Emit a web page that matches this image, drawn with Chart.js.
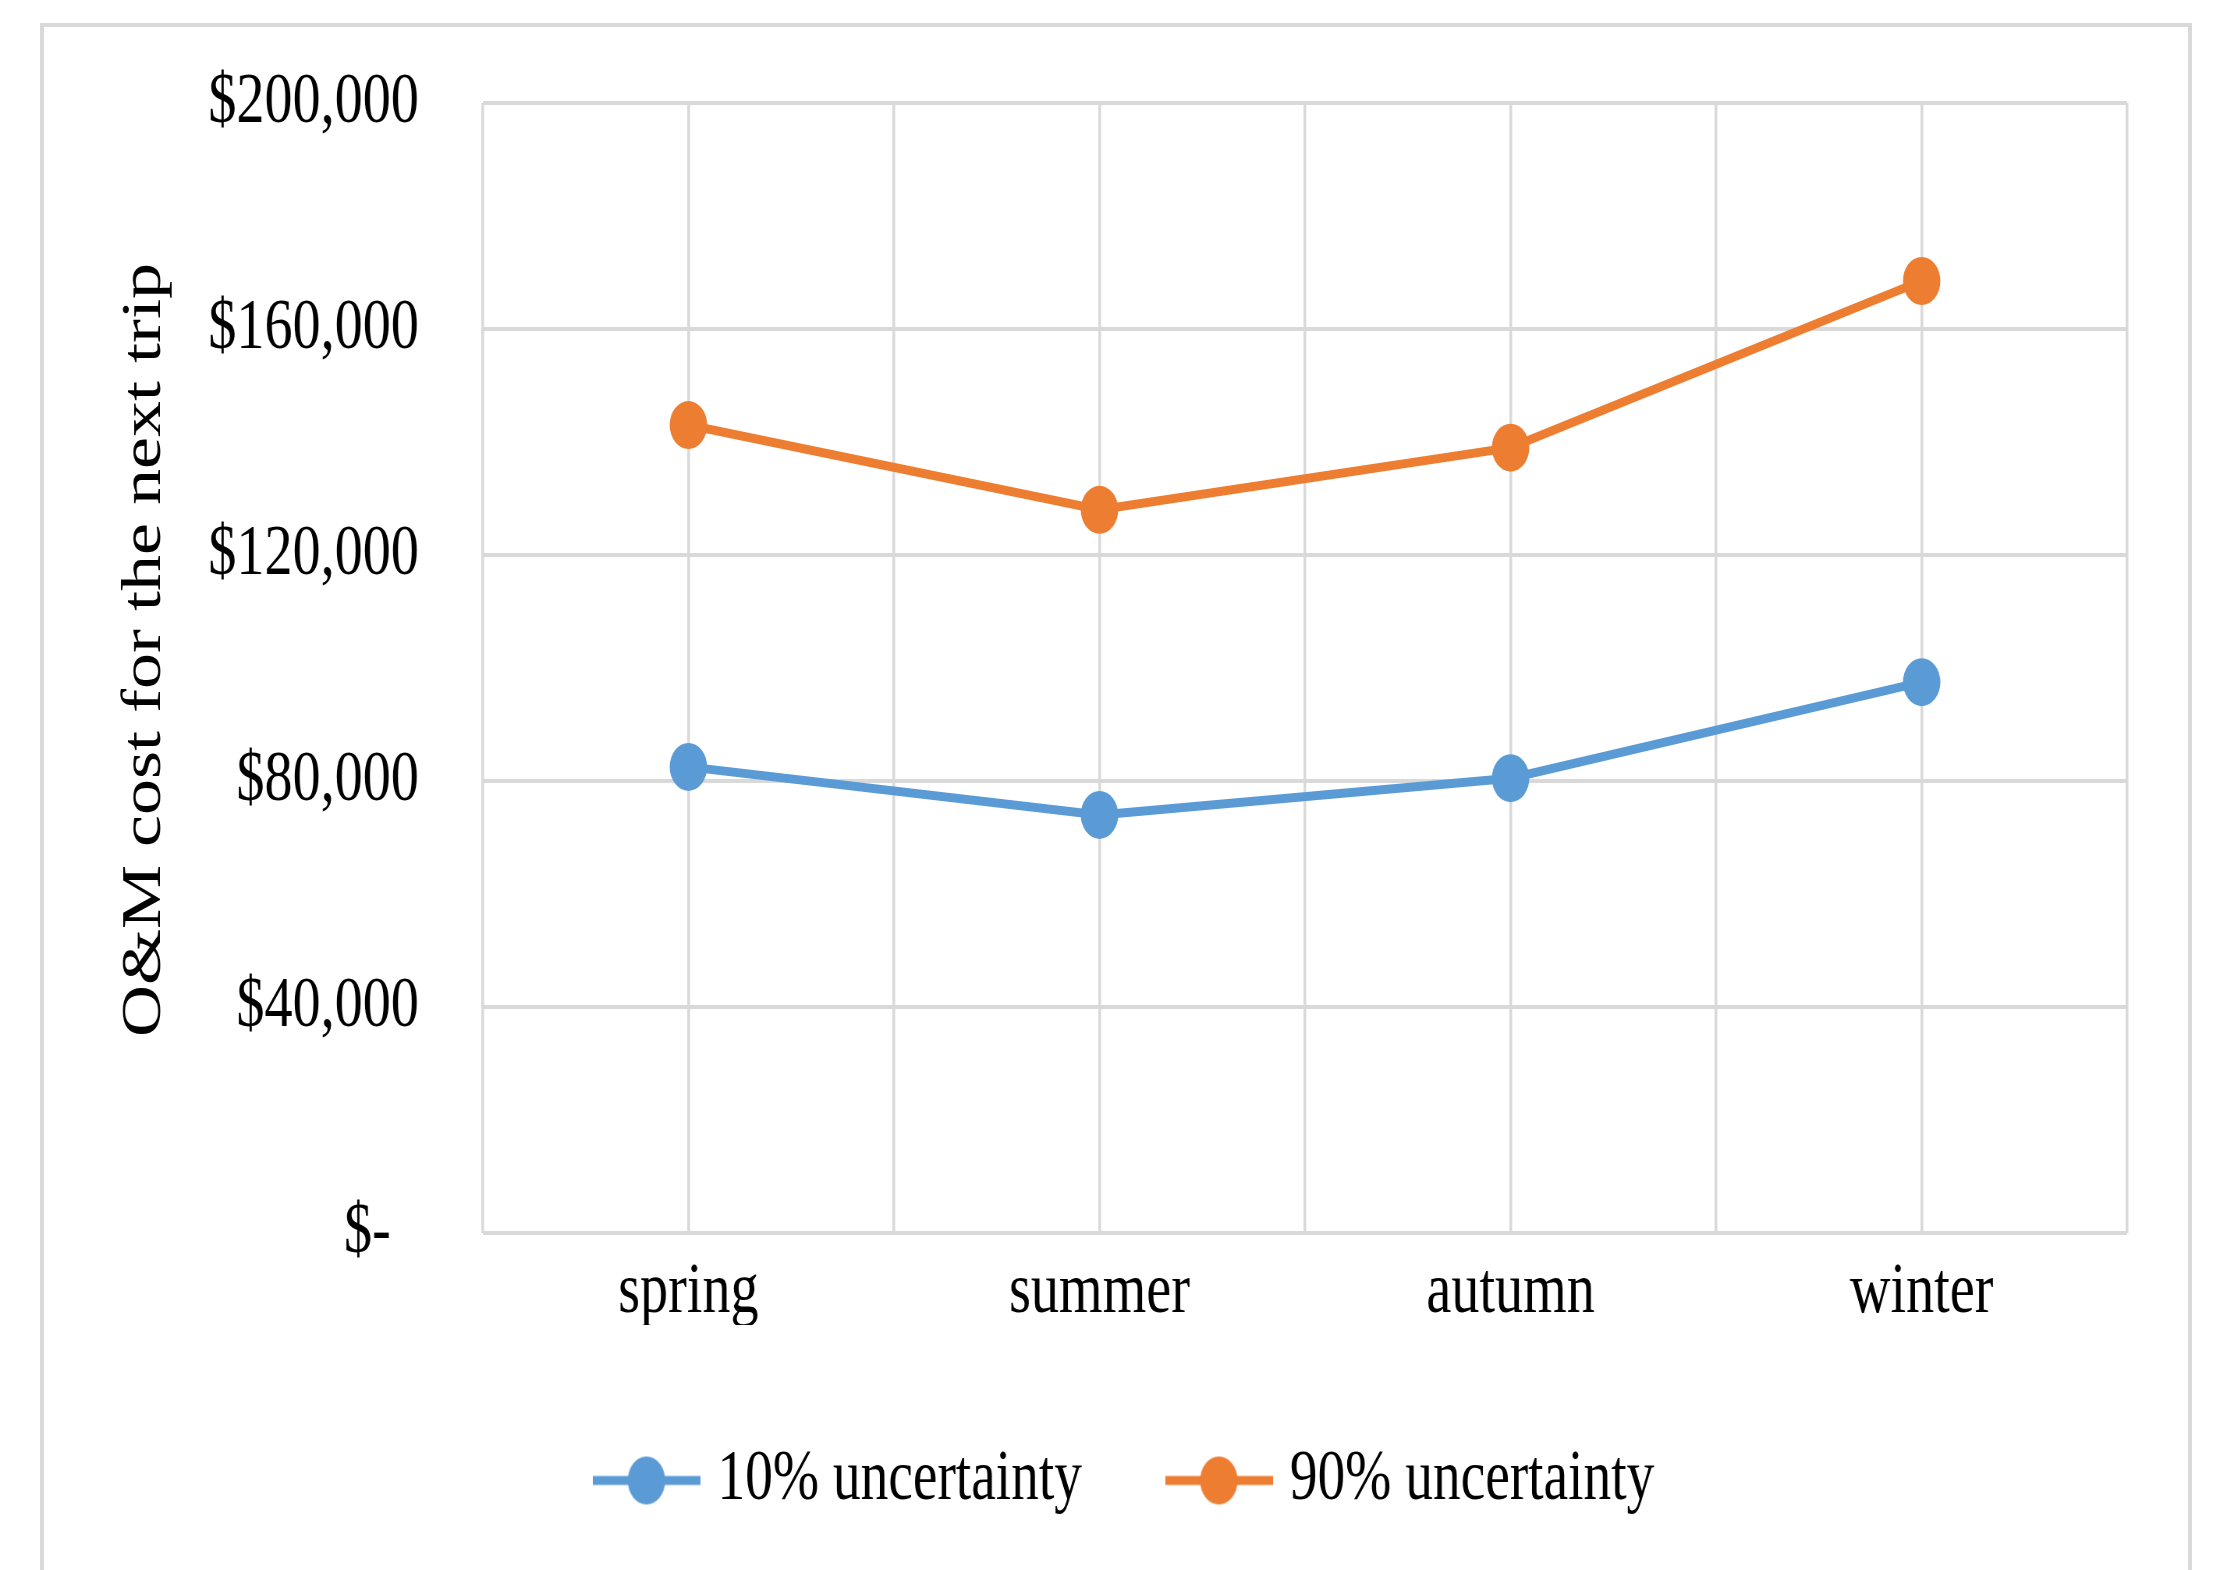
<!DOCTYPE html>
<html>
<head>
<meta charset="utf-8">
<title>O&amp;M cost for the next trip</title>
<script src="https://cdn.jsdelivr.net/npm/chart.js@4.4.0/dist/chart.umd.min.js"></script>
<style>
    html, body { margin: 0; padding: 0; background: #fff; overflow: hidden; }
    #wrap { position: relative; width: 2213px; height: 1570px; }
    #frame {
        position: absolute; left: 40px; top: 23px;
        width: 2152px; height: 1620px;
        border: 4px solid #d9d9d9; box-sizing: border-box;
    }
</style>
</head>
<body>
<div id="wrap">
    <div id="frame"></div>
    <!-- drawn wider than shown, so the text comes out narrow like the original -->
    <canvas id="costChart" width="2837" height="1570"
            style="position:absolute;left:0;top:0;width:2213px;height:1570px;"></canvas>
</div>
<script>
// Chart data
const seasons = ['spring', 'summer', 'autumn', 'winter'];
const lowCost = [82500, 74000, 80500, 97500];
const highCost = [143000, 128000, 139000, 168500];
const seriesNames = ['10% uncertainty', '90% uncertainty'];
const yTicks = [0, 40000, 80000, 120000, 160000, 200000];
const yTitle = '  O&M cost for the next trip';

const BLUE = '#5b9bd5';
const ORANGE = '#ed7d31';
const GRID = '#d9d9d9';
const FONT = 'Liberation Serif';

// Line with a dot in the middle, like the Excel legend key
function makeLegendIcon(color) {
    const c = document.createElement('canvas');
    c.width = 138;
    c.height = 52;
    const g = c.getContext('2d');
    g.strokeStyle = color;
    g.lineWidth = 9;
    g.beginPath();
    g.moveTo(0, 26);
    g.lineTo(138, 26);
    g.stroke();
    g.fillStyle = color;
    g.beginPath();
    g.arc(69, 26, 24, 0, Math.PI * 2);
    g.fill();
    return c;
}

function formatMoney(value) {
    if (value === 0) return '$-  ';
    return '$' + value.toLocaleString('en-US');
}

function initChart() {
    const icons = [makeLegendIcon(BLUE), makeLegendIcon(ORANGE)];
    const ctx = document.getElementById('costChart').getContext('2d');

    new Chart(ctx, {
        type: 'line',
        data: {
            labels: seasons,
            datasets: [{
                label: seriesNames[0],
                data: lowCost,
                borderColor: BLUE,
                backgroundColor: BLUE,
                borderWidth: 9,
                pointRadius: 24,
                pointBorderWidth: 0,
                pointBackgroundColor: BLUE,
                tension: 0
            }, {
                label: seriesNames[1],
                data: highCost,
                borderColor: ORANGE,
                backgroundColor: ORANGE,
                borderWidth: 9,
                pointRadius: 24,
                pointBorderWidth: 0,
                pointBackgroundColor: ORANGE,
                tension: 0
            }]
        },
        options: {
            responsive: false,
            devicePixelRatio: 1,
            animation: false,
            events: [],
            layout: {
                padding: { left: 167, right: 110, top: 103, bottom: 44 }
            },
            scales: {
                x: {
                    type: 'category',
                    offset: true,
                    grid: { offset: true, color: GRID, lineWidth: 3.5, drawTicks: false },
                    border: { display: false },
                    ticks: {
                        color: '#000',
                        padding: 17,
                        font: { family: FONT, size: 72 }
                    },
                    afterFit: (scale) => { scale.height = 92; }
                },
                // second category axis only for the gridlines through the points
                x2: {
                    type: 'category',
                    position: 'bottom',
                    offset: true,
                    grid: { offset: false, color: GRID, lineWidth: 3.5, drawTicks: false },
                    border: { display: false },
                    ticks: { display: false },
                    afterFit: (scale) => { scale.height = 0; }
                },
                y: {
                    min: 0,
                    max: 200000,
                    grid: { color: GRID, lineWidth: 4, drawTicks: false },
                    border: { display: false },
                    afterBuildTicks: (axis) => {
                        axis.ticks = yTicks.map(v => ({ value: v }));
                    },
                    ticks: {
                        color: '#000',
                        padding: 82,
                        font: { family: FONT, size: 72 },
                        callback: (value) => formatMoney(value)
                    },
                    title: {
                        display: true,
                        text: yTitle,
                        color: '#000',
                        padding: { top: -24, bottom: 0 },
                        font: { family: FONT, size: 72 }
                    },
                    afterFit: (scale) => {
                        scale.width = 452;
                        // the big tick padding should not push the plot down
                        scale.paddingTop = 20;
                        scale.paddingBottom = 20;
                    }
                }
            },
            plugins: {
                tooltip: { enabled: false },
                legend: {
                    position: 'bottom',
                    labels: {
                        color: '#000',
                        font: { family: FONT, size: 71 },
                        padding: 120,
                        usePointStyle: true,
                        pointStyleWidth: 111,
                        generateLabels: (chart) => {
                            const items = Chart.defaults.plugins.legend.labels.generateLabels(chart);
                            items.forEach(item => { item.pointStyle = icons[item.datasetIndex]; });
                            return items;
                        }
                    }
                }
            }
        }
    });
}

window.addEventListener('DOMContentLoaded', initChart);
</script>
</body>
</html>
